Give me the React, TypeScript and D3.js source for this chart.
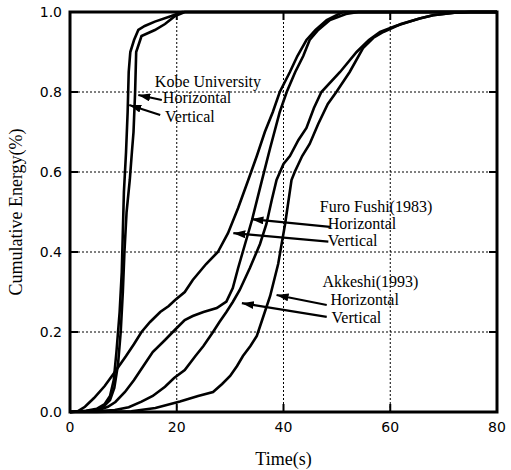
import React, { useRef, useEffect } from 'react';
import * as d3 from 'd3';

// time (s), cumulative energy (fraction)
const kobeVertical: [number, number][] = [
  [0, 0], [3, 0.003], [5, 0.008], [6.5, 0.02], [7.5, 0.04], [8.2, 0.08], [8.7, 0.15], [9.3, 0.25],
  [9.7, 0.35], [9.9, 0.45], [10.1, 0.55], [10.5, 0.65], [10.8, 0.75], [11, 0.85], [11.3, 0.9],
  [12, 0.93], [12.8, 0.955], [14, 0.965], [15.9, 0.976], [19, 0.99], [21, 1], [80, 1],
];
const kobeHorizontal: [number, number][] = [
  [0, 0], [4, 0.003], [6, 0.01], [7.5, 0.03], [8.3, 0.06], [9, 0.12], [9.5, 0.2], [9.9, 0.3],
  [10.2, 0.4], [10.6, 0.5], [11.2, 0.58], [11.6, 0.65], [11.9, 0.7], [12.2, 0.8], [12.4, 0.9],
  [13.4, 0.94], [15.9, 0.955], [17.8, 0.97], [19.7, 0.99], [21.5, 1], [80, 1],
];
const furoVertical: [number, number][] = [
  [0, 0], [1.5, 0.002], [2.8, 0.013], [4.5, 0.035], [6.5, 0.065], [8.4, 0.1], [10.5, 0.14],
  [12, 0.17], [13.4, 0.2], [15, 0.225], [16.9, 0.25], [18.5, 0.265], [19.7, 0.28], [21.5, 0.3],
  [23, 0.33], [25.5, 0.37], [27.7, 0.4], [29.6, 0.447], [31.5, 0.51], [33.4, 0.58], [35, 0.64],
  [36.5, 0.7], [38, 0.75], [39.3, 0.8], [41.2, 0.85], [42.6, 0.89], [44.3, 0.93], [46, 0.955],
  [48.1, 0.98], [51.1, 1], [80, 1],
];
const furoHorizontal: [number, number][] = [
  [0, 0], [3, 0.002], [5.5, 0.006], [7.1, 0.013], [8.5, 0.025], [10.3, 0.05], [12, 0.08],
  [14, 0.12], [15.5, 0.15], [17.8, 0.18], [20, 0.21], [21.5, 0.23], [23, 0.24], [25, 0.25],
  [27.5, 0.26], [29.3, 0.276], [30.5, 0.31], [31.5, 0.36], [32.8, 0.42], [34.1, 0.48],
  [35.9, 0.576], [37.5, 0.66], [39.3, 0.75], [40.6, 0.8], [42.2, 0.85], [43.7, 0.89],
  [44.9, 0.93], [46.5, 0.955], [48.7, 0.98], [51.7, 0.995], [54, 1], [80, 1],
];
const akkeshiVertical: [number, number][] = [
  [0, 0], [3, 0.002], [6, 0.003], [8.4, 0.005], [11, 0.012], [13.4, 0.026], [15.5, 0.04],
  [17.8, 0.063], [19.5, 0.085], [21.5, 0.105], [23.5, 0.14], [25, 0.165], [26.8, 0.2],
  [28, 0.225], [29.3, 0.25], [30.5, 0.275], [31.8, 0.305], [33.7, 0.36], [35.6, 0.42],
  [36.8, 0.47], [37.8, 0.53], [38.7, 0.58], [40, 0.62], [41.2, 0.64], [42.8, 0.68], [44.3, 0.71],
  [45.7, 0.76], [47.1, 0.8], [50.6, 0.85], [53.7, 0.9], [56, 0.93], [58.1, 0.95], [61, 0.965],
  [65.5, 0.984], [68, 0.992], [72, 0.998], [75, 1], [80, 1],
];
const akkeshiHorizontal: [number, number][] = [
  [0, 0], [5, 0], [11.5, 0.002], [16, 0.01], [20.6, 0.026], [24, 0.04], [26.8, 0.05], [28.5, 0.07],
  [30, 0.09], [31.3, 0.115], [32.4, 0.14], [33.8, 0.165], [35, 0.19], [36, 0.23], [37.5, 0.29],
  [39, 0.37], [40.3, 0.47], [41.5, 0.58], [42.1, 0.6], [43.5, 0.64], [44.9, 0.67], [46.5, 0.72],
  [48.3, 0.77], [49.9, 0.8], [52.4, 0.85], [54.9, 0.91], [56.8, 0.935], [58.7, 0.95], [62, 0.97],
  [65.5, 0.984], [68, 0.992], [72, 0.998], [75, 1], [80, 1],
];

const xTicks = [0, 20, 40, 60, 80];
const yTicks = [0, 0.2, 0.4, 0.6, 0.8, 1.0];

// label text with anchor (time, energy)
const labels: [string, number, number][] = [
  ['Kobe University', 15.9, 0.8125],
  ['Horizontal', 17.4, 0.7725],
  ['Vertical', 17.8, 0.725],
  ['Furo Fushi(1983)', 46.8, 0.499],
  ['Horizontal', 48.3, 0.4575],
  ['Vertical', 48.3, 0.415],
  ['Akkeshi(1993)', 47.3, 0.312],
  ['Horizontal', 48.8, 0.2675],
  ['Vertical', 49.0, 0.223],
];

// arrows: from (t, e) to tip (t, e)
const arrows: [number, number, number, number][] = [
  [17.2, 0.78, 12.8, 0.7925],
  [16.9, 0.7425, 11.1, 0.7675],
  [48.7, 0.463, 34.0, 0.482],
  [48.4, 0.426, 30.6, 0.447],
  [48.1, 0.2675, 38.7, 0.2925],
  [48.1, 0.238, 32.2, 0.272],
];

const W = 511;
const H = 470;

function App() {
  const chartRef = useRef<SVGSVGElement>(null);

  useEffect(() => {
    drawChart();
  }, []);

  const drawChart = () => {
    const margin = { top: 12, right: 14, bottom: 58, left: 70 };
    const svg = d3.select(chartRef.current);
    svg.selectAll('*').remove();
    svg.attr('width', W).attr('height', H);

    const x = d3.scaleLinear().domain([0, 80]).range([margin.left, W - margin.right]);
    const y = d3.scaleLinear().domain([0, 1]).range([H - margin.bottom, margin.top]);

    svg.append('rect').attr('width', W).attr('height', H).attr('fill', 'white');

    svg.append('defs').append('marker')
      .attr('id', 'head')
      .attr('viewBox', '0 0 12 8')
      .attr('refX', 12)
      .attr('refY', 4)
      .attr('markerWidth', 12)
      .attr('markerHeight', 8)
      .attr('markerUnits', 'userSpaceOnUse')
      .attr('orient', 'auto')
      .append('path')
      .attr('d', 'M0,0 L12,4 L0,8 Z')
      .attr('fill', 'black');

    // dotted grid
    svg.append('g').selectAll('line')
      .data(xTicks.slice(1, -1))
      .enter().append('line')
      .attr('x1', d => x(d)).attr('x2', d => x(d))
      .attr('y1', y(0)).attr('y2', y(1))
      .attr('stroke', 'black').attr('stroke-width', 1).attr('stroke-dasharray', '2,2');
    svg.append('g').selectAll('line')
      .data(yTicks.slice(1, -1))
      .enter().append('line')
      .attr('y1', d => y(d)).attr('y2', d => y(d))
      .attr('x1', x(0)).attr('x2', x(80))
      .attr('stroke', 'black').attr('stroke-width', 1).attr('stroke-dasharray', '2,2');

    // inward ticks on all sides
    const tickLen = 8;
    const ticks = svg.append('g').attr('stroke', 'black').attr('stroke-width', 2);
    xTicks.slice(1, -1).forEach(d => {
      ticks.append('line').attr('x1', x(d)).attr('x2', x(d)).attr('y1', y(0)).attr('y2', y(0) - tickLen);
      ticks.append('line').attr('x1', x(d)).attr('x2', x(d)).attr('y1', y(1)).attr('y2', y(1) + tickLen);
    });
    yTicks.slice(1, -1).forEach(d => {
      ticks.append('line').attr('y1', y(d)).attr('y2', y(d)).attr('x1', x(0)).attr('x2', x(0) + tickLen);
      ticks.append('line').attr('y1', y(d)).attr('y2', y(d)).attr('x1', x(80)).attr('x2', x(80) - tickLen);
    });

    const line = d3.line<[number, number]>()
      .x(d => x(d[0]))
      .y(d => y(d[1]));

    const series = [kobeVertical, kobeHorizontal, furoVertical, furoHorizontal, akkeshiVertical, akkeshiHorizontal];
    svg.append('g').selectAll('path')
      .data(series)
      .enter().append('path')
      .attr('d', d => line(d))
      .attr('fill', 'none')
      .attr('stroke', 'black')
      .attr('stroke-width', 2.6)
      .attr('stroke-linejoin', 'miter');

    // frame
    svg.append('rect')
      .attr('x', x(0)).attr('y', y(1))
      .attr('width', x(80) - x(0)).attr('height', y(0) - y(1))
      .attr('fill', 'none').attr('stroke', 'black').attr('stroke-width', 3);

    // tick labels
    svg.append('g').selectAll('text')
      .data(xTicks)
      .enter().append('text')
      .attr('x', d => x(d))
      .attr('y', y(0) + 20)
      .attr('text-anchor', 'middle')
      .attr('font-family', 'DejaVu Sans, sans-serif')
      .attr('font-size', 14)
      .text(d => d);
    svg.append('g').selectAll('text')
      .data(yTicks)
      .enter().append('text')
      .attr('x', x(0) - 8)
      .attr('y', d => y(d) + 5)
      .attr('text-anchor', 'end')
      .attr('font-family', 'DejaVu Sans, sans-serif')
      .attr('font-size', 14)
      .text(d => d3.format('.1f')(d));

    // axis titles
    svg.append('text')
      .attr('x', x(40))
      .attr('y', 465)
      .attr('text-anchor', 'middle')
      .attr('font-family', 'Liberation Serif, serif')
      .attr('font-size', 18)
      .text('Time(s)');
    svg.append('text')
      .attr('transform', `translate(22,${y(0.5)}) rotate(-90)`)
      .attr('text-anchor', 'middle')
      .attr('font-family', 'Liberation Serif, serif')
      .attr('font-size', 18)
      .text('Cumulative Energy(%)');

    // annotations
    svg.append('g').selectAll('line')
      .data(arrows)
      .enter().append('line')
      .attr('x1', d => x(d[0])).attr('y1', d => y(d[1]))
      .attr('x2', d => x(d[2])).attr('y2', d => y(d[3]))
      .attr('stroke', 'black')
      .attr('stroke-width', 2.2)
      .attr('marker-end', 'url(#head)');

    svg.append('g').selectAll('text')
      .data(labels)
      .enter().append('text')
      .attr('x', d => x(d[1]))
      .attr('y', d => y(d[2]))
      .attr('font-family', 'Liberation Serif, serif')
      .attr('font-size', 16)
      .attr('fill', 'black')
      .text(d => d[0]);
  };

  return (
    <svg ref={chartRef} style={{ position: 'absolute', left: 0, top: 0 }}></svg>
  );
}

export default App;
